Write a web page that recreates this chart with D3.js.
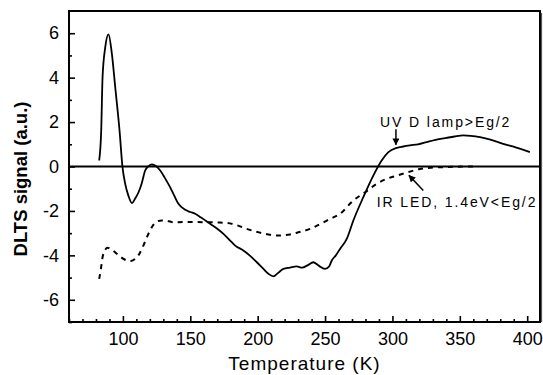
<!DOCTYPE html>
<html>
<head>
<meta charset="utf-8">
<script src="https://cdn.jsdelivr.net/npm/d3@7"></script>
<style>
  html, body { margin: 0; padding: 0; background: #fff; }
  svg { display: block; }
  text { font-family: "Liberation Sans", Arial, sans-serif; fill: #000; }
</style>
</head>
<body>
<svg id="chart" width="543" height="375"></svg>
<script>
// ---- data ----
const uvTemp = [82.4, 83.9, 84.9, 86.9, 89.3, 91.8, 94.3, 97.5, 99.7, 101.7, 104, 106.7, 109, 111.6, 114, 116.5, 119, 121.5, 124.5, 127.7, 131, 135, 138, 141.2, 146.2, 150, 153.6, 158, 164.7, 170, 174.6, 179, 183.3, 189.4, 194, 199.4, 204.3, 208, 211.7, 215, 219.1, 224, 229, 233, 237, 241.3, 245, 250, 253, 255, 258, 261.1, 266.1, 271, 278.4, 285.8, 292, 297, 303.2, 308, 313, 319, 325.4, 332, 340.2, 346, 352.6, 358, 365, 372, 382.2, 392, 402];
const uvSignal = [0.27, 1.62, 4.02, 5.37, 5.95, 5.08, 3.57, 1.62, -0.03, -0.78, -1.3, -1.65, -1.45, -1.16, -0.75, -0.18, 0.02, 0.09, 0.02, -0.18, -0.5, -0.93, -1.3, -1.68, -1.95, -2.05, -2.13, -2.3, -2.58, -2.8, -3.03, -3.3, -3.56, -3.78, -4.0, -4.31, -4.61, -4.83, -4.95, -4.8, -4.61, -4.55, -4.5, -4.55, -4.45, -4.31, -4.45, -4.61, -4.5, -4.23, -4.0, -3.71, -3.26, -2.43, -1.38, -0.41, 0.27, 0.65, 0.84, 0.9, 0.95, 1.0, 1.1, 1.2, 1.29, 1.35, 1.4, 1.38, 1.32, 1.22, 1.02, 0.85, 0.65];

const irTemp = [82.4, 83.7, 85.2, 88.6, 92, 95.5, 99, 103, 106, 109.1, 111.5, 114.1, 117.8, 121.5, 124.5, 128.9, 133, 137.6, 145, 155, 162.3, 170, 177.1, 185, 191.9, 200, 207, 214.2, 224, 231, 238.9, 246, 253.7, 261.1, 271, 280, 288.3, 296, 303.2, 312, 320.4, 330, 337.7, 348, 360];
const irSignal = [-5.06, -4.6, -4.0, -3.66, -3.75, -3.93, -4.1, -4.23, -4.25, -4.16, -4.0, -3.71, -3.18, -2.73, -2.5, -2.43, -2.45, -2.51, -2.5, -2.5, -2.51, -2.52, -2.54, -2.65, -2.81, -2.95, -3.05, -3.11, -3.06, -2.95, -2.81, -2.6, -2.36, -2.13, -1.53, -1.15, -0.78, -0.55, -0.41, -0.25, -0.11, -0.05, -0.03, -0.01, 0.0];

const xTickLabels = [100, 150, 200, 250, 300, 350, 400];
const xMinorTicks = [60, 70, 80, 90, 110, 120, 130, 140, 160, 170, 180, 190, 210, 220, 230, 240, 260, 270, 280, 290, 310, 320, 330, 340, 360, 370, 380, 390];
const yTickLabels = [-6, -4, -2, 0, 2, 4, 6];
const yMinorTicks = [-7, -5, -3, -1, 1, 3, 5];

const annoText = ["UV D lamp>Eg/2", "IR LED, 1.4eV<Eg/2"];
const annoTextT = [290.8, 288.3];
const annoTextV = [1.77, -1.83];
const arrowFromT = [302.6, 322.9];
const arrowFromV = [1.68, -1.08];
const arrowToT = [302.6, 312.3];
const arrowToV = [0.98, -0.40];

// ---- layout ----
const svg = d3.select("#chart");
const mLeft = 69, mRight = 540, mTop = 11, mBottom = 322;

const x = d3.scaleLinear().domain([60, 409.5]).range([mLeft, mRight]);
const y = d3.scaleLinear().domain([-7, 7]).range([mBottom, mTop]);

const gx = svg.append("g").attr("transform", `translate(0,${mBottom})`)
  .call(d3.axisBottom(x).tickValues(xTickLabels).tickFormat(d3.format("d")).tickSizeInner(-6).tickSizeOuter(0).tickPadding(10));
const gxm = svg.append("g").attr("transform", `translate(0,${mBottom})`)
  .call(d3.axisBottom(x).tickValues(xMinorTicks).tickFormat("").tickSizeInner(-3).tickSizeOuter(0));
const gy = svg.append("g").attr("transform", `translate(${mLeft},0)`)
  .call(d3.axisLeft(y).tickValues(yTickLabels).tickFormat(d3.format("d")).tickSizeInner(-6).tickSizeOuter(0).tickPadding(10));
const gym = svg.append("g").attr("transform", `translate(${mLeft},0)`)
  .call(d3.axisLeft(y).tickValues(yMinorTicks).tickFormat("").tickSizeInner(-3).tickSizeOuter(0));

[gx, gxm, gy, gym].forEach(g => {
  g.select(".domain").remove();
  g.selectAll(".tick line").attr("stroke", "#000").attr("stroke-width", 1.6);
  g.selectAll(".tick text")
    .style("font-family", '"Liberation Sans", Arial, sans-serif')
    .style("font-size", "18px")
    .attr("fill", "#000");
});
gy.selectAll(".tick text").text(d => d < 0 ? "-" + Math.abs(d) : d);

// frame
svg.append("rect").attr("x", mLeft).attr("y", mTop)
  .attr("width", mRight - mLeft).attr("height", mBottom - mTop)
  .attr("fill", "none").attr("stroke", "#000").attr("stroke-width", 2);
svg.append("line").attr("x1", mRight + 1.5).attr("x2", mRight + 1.5)
  .attr("y1", mTop + 2).attr("y2", mBottom)
  .attr("stroke", "#555").attr("stroke-width", 1.2);

// zero line
svg.append("line").attr("x1", x(60)).attr("x2", x(409.5))
  .attr("y1", y(0)).attr("y2", y(0))
  .attr("stroke", "#000").attr("stroke-width", 2);

// curves
const line = d3.line().x(d => x(d[0])).y(d => y(d[1])).curve(d3.curveMonotoneX);

svg.append("path")
  .datum(uvTemp.map((t, i) => [t, uvSignal[i]]))
  .attr("d", line)
  .attr("fill", "none").attr("stroke", "#000").attr("stroke-width", 1.8)
  .attr("stroke-linejoin", "round");

svg.append("path")
  .datum(irTemp.map((t, i) => [t, irSignal[i]]))
  .attr("d", line)
  .attr("fill", "none").attr("stroke", "#000").attr("stroke-width", 2)
  .attr("stroke-dasharray", "5,5");

// arrow marker
svg.append("defs").append("marker")
  .attr("id", "ah").attr("viewBox", "0 0 10 10")
  .attr("refX", 9).attr("refY", 5)
  .attr("markerWidth", 7).attr("markerHeight", 7)
  .attr("markerUnits", "userSpaceOnUse")
  .attr("orient", "auto")
  .append("path").attr("d", "M0,0 L10,5 L0,10 Z").attr("fill", "#000");

svg.selectAll("line.arrow").data(arrowFromT).enter().append("line")
  .attr("class", "arrow")
  .attr("x1", (d, i) => x(arrowFromT[i])).attr("y1", (d, i) => y(arrowFromV[i]))
  .attr("x2", (d, i) => x(arrowToT[i])).attr("y2", (d, i) => y(arrowToV[i]))
  .attr("stroke", "#000").attr("stroke-width", 1.5)
  .attr("marker-end", "url(#ah)");

svg.selectAll("text.anno").data(annoText).enter().append("text")
  .attr("class", "anno")
  .attr("x", (d, i) => x(annoTextT[i])).attr("y", (d, i) => y(annoTextV[i]))
  .style("font-size", "14px").style("letter-spacing", "1.9px")
  .text(d => d);

// axis titles
svg.append("text")
  .attr("x", (mLeft + mRight) / 2).attr("y", 370)
  .attr("text-anchor", "middle")
  .style("font-size", "19px").style("letter-spacing", "1px")
  .text("Temperature (K)");

svg.append("text")
  .attr("transform", "translate(27,179) rotate(-90)")
  .attr("text-anchor", "middle")
  .style("font-size", "18.5px").style("font-weight", "bold")
  .text("DLTS signal (a.u.)");
</script>
</body>
</html>
